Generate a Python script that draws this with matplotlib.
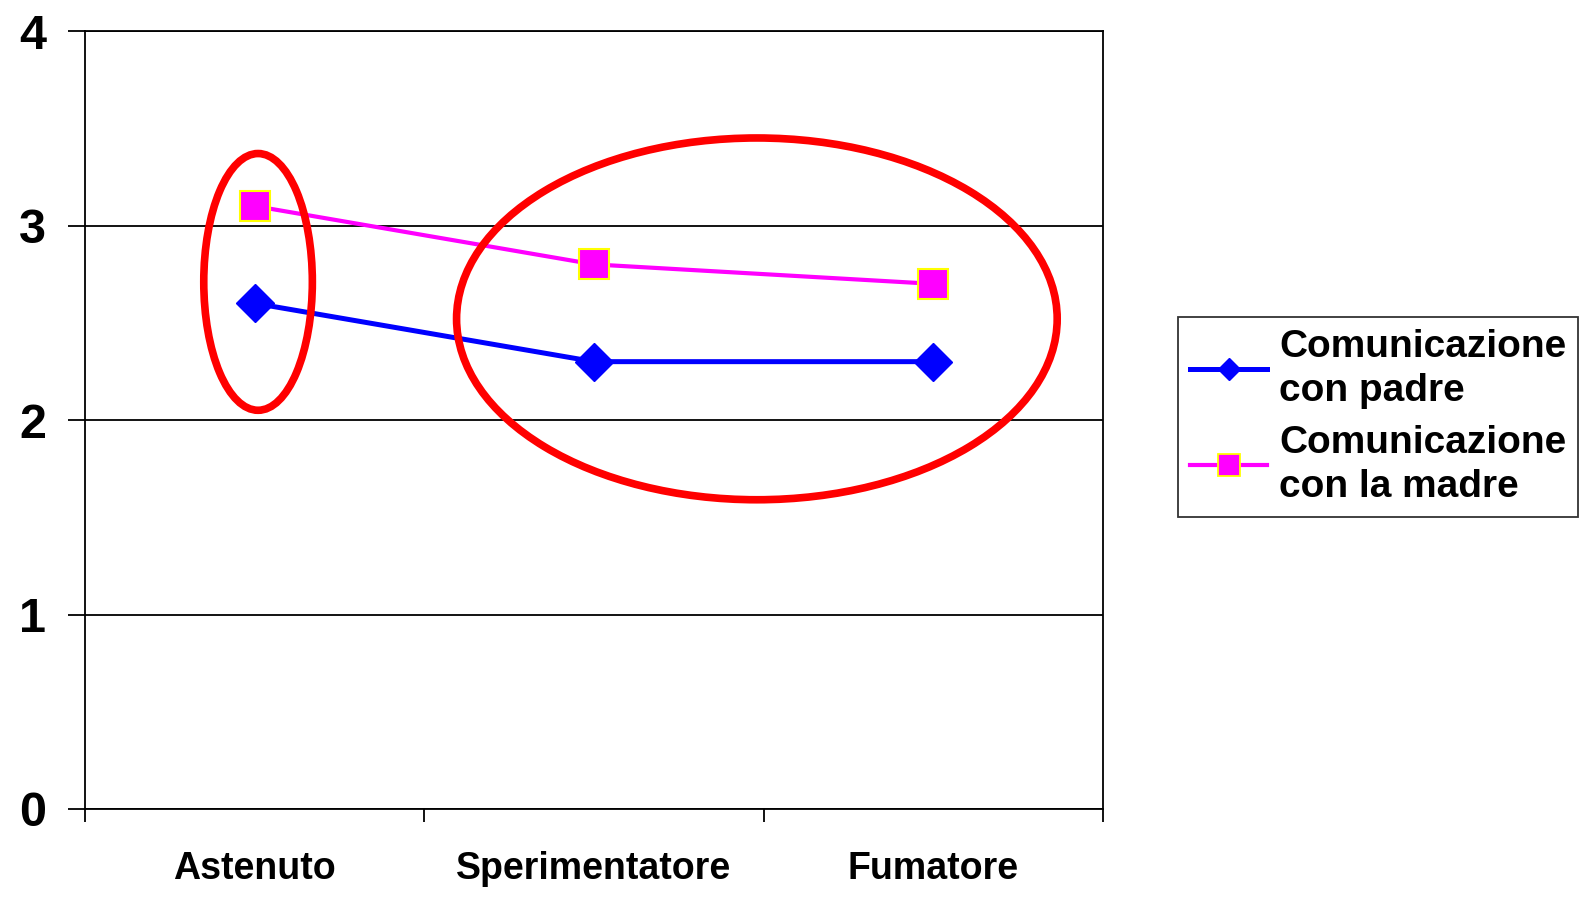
import matplotlib.pyplot as plt
from matplotlib.lines import Line2D
from matplotlib.patches import Ellipse
import numpy as np

categorie = ["Astenuto", "Sperimentatore", "Fumatore"]
padre = [2.6, 2.3, 2.3]
madre = [3.1, 2.8, 2.7]
etichette = ["Comunicazione\ncon padre", "Comunicazione\ncon la madre"]

# ellissi evidenziate: (centro x, centro y, larghezza, altezza) in unità dei dati
ellissi = [(0.01, 2.71, 0.32, 1.32), (1.48, 2.52, 1.77, 1.86)]

plt.rcParams['font.family'] = ['Liberation Sans', 'DejaVu Sans']
plt.rcParams['font.weight'] = 'bold'

fig = plt.figure(figsize=(15.91, 8.99), dpi=100)
ax = fig.add_axes([85/1591, 1-809/899, (1103-85)/1591, (809-31)/899])

x = np.arange(len(categorie))
ax.plot(x, padre, '-D', color='#0000FF', lw=3.6, ms=19, mec='#0000FF', zorder=3)
ax.plot(x, madre, '-s', color='#FF00FF', lw=3, ms=22, mfc='#FF00FF', mec='#FFFF00', mew=1.5, zorder=3)

for cx, cy, w, h in ellissi:
    ax.add_patch(Ellipse((cx, cy), w, h, fill=False, ec='#FF0000', lw=5.5, zorder=4, clip_on=False))

ax.set_xlim(-0.5, 2.5)
ax.set_ylim(0, 4)
ax.set_yticks([0, 1, 2, 3, 4])
ax.yaxis.grid(True, color='black', lw=1.3)
ax.set_axisbelow(True)
ax.tick_params(axis='y', length=12, width=1.3, pad=16, labelsize=35)
ax.set_xticks(x)
ax.set_xticklabels(categorie)
ax.set_xticks([-0.5, 0.5, 1.5, 2.5], minor=True)
ax.tick_params(axis='x', which='major', length=0, pad=30, labelsize=27)
ax.tick_params(axis='x', which='minor', length=9, width=1.3)
for s in ax.spines.values():
    s.set_linewidth(1.3)

maniglie = [
    Line2D([], [], color='#0000FF', lw=3.6, marker='D', ms=11, mec='#0000FF'),
    Line2D([], [], color='#FF00FF', lw=3, marker='s', ms=16, mfc='#FF00FF', mec='#FFFF00', mew=1.3),
]
leg = fig.legend(maniglie, etichette, loc='upper left', bbox_to_anchor=(1178/1591, 1-317/899),
                 fontsize=28, frameon=True, fancybox=False, edgecolor='black',
                 handlelength=2.0, handletextpad=0.3, borderpad=0.3, labelspacing=0.4,
                 borderaxespad=0)
for t in leg.get_texts():
    t.set_linespacing(1.3)
leg.get_frame().set_linewidth(1.3)

plt.savefig('out.png', dpi=100)
